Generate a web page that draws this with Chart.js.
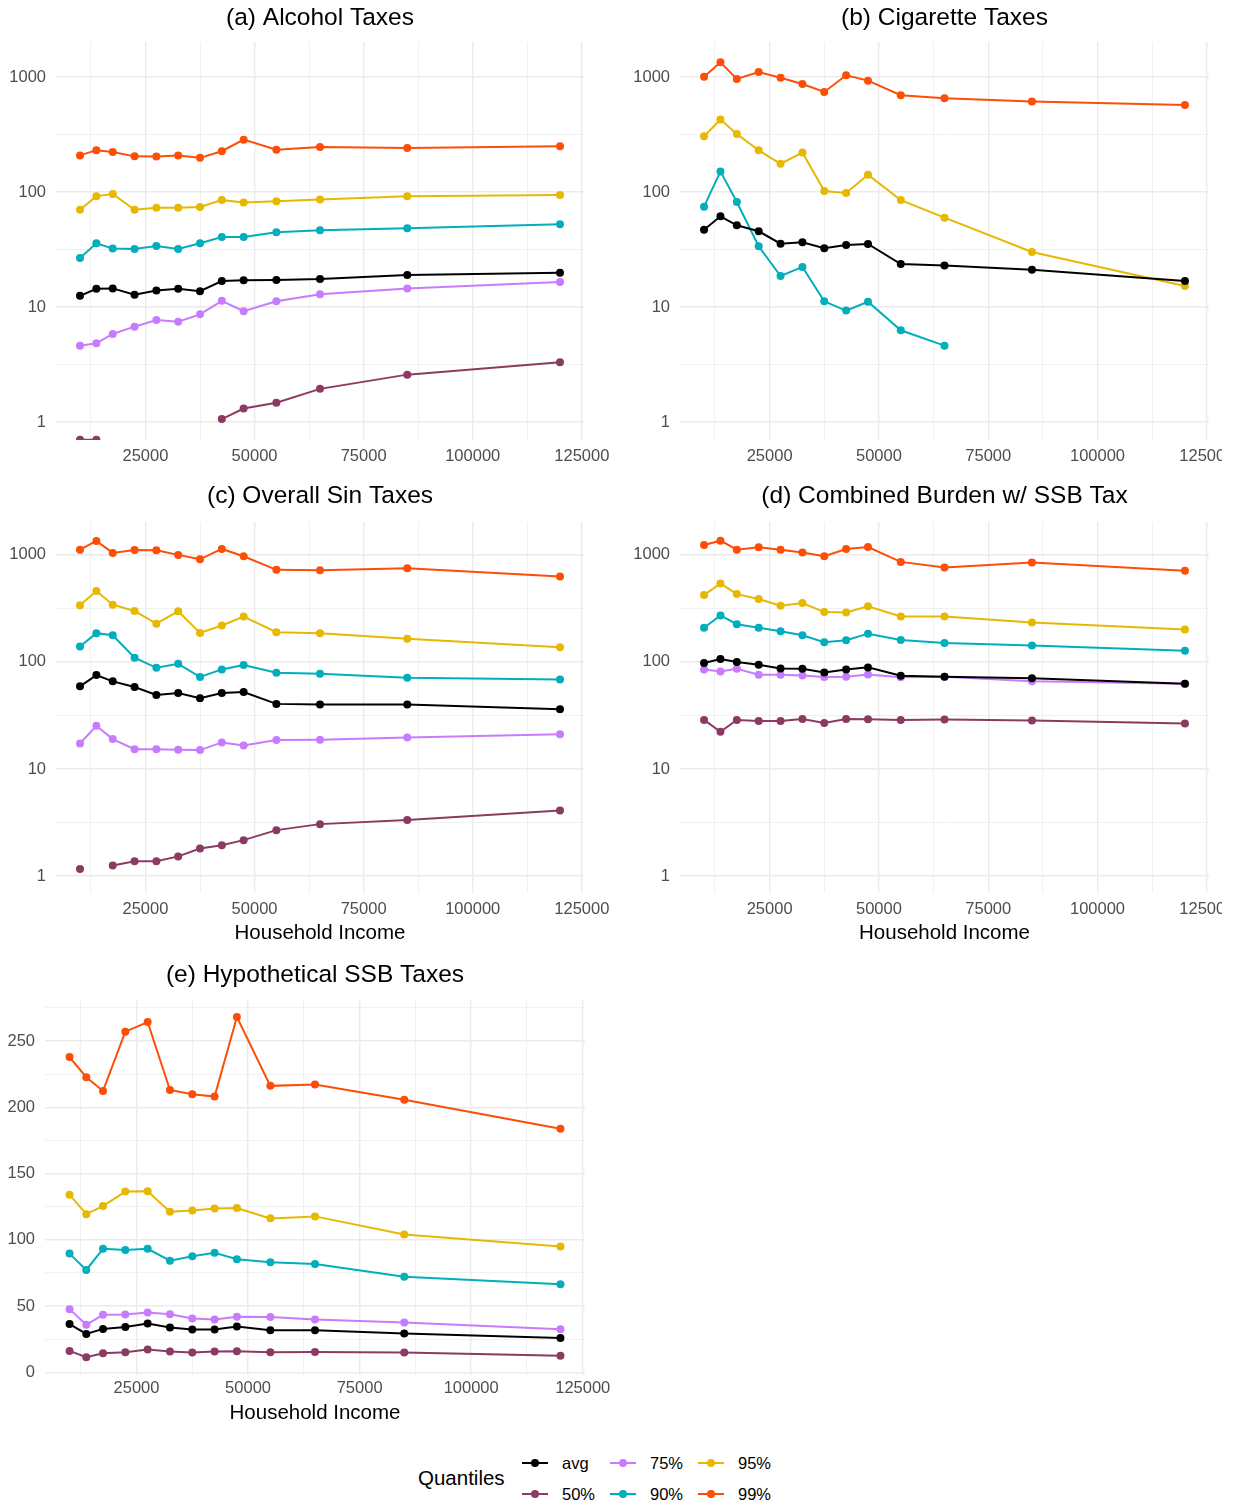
<!DOCTYPE html>
<html lang="en">
<head>
  <meta charset="UTF-8">
  <title>Sin Taxes by Household Income</title>
  <script src="https://cdn.jsdelivr.net/npm/chart.js"></script>
  <style>
    body { margin: 0; background: #fff; font-family: 'Liberation Sans', Arial, sans-serif; }
    #page { position: relative; width: 1234px; height: 1506px; overflow: hidden; background: #fff; }
    .panel { position: absolute; }
    .lg { position: absolute; }
  </style>
</head>
<body>
<div id="page">
  <canvas class="panel" id="chartA"></canvas>
  <canvas class="panel" id="chartB"></canvas>
  <canvas class="panel" id="chartC"></canvas>
  <canvas class="panel" id="chartD"></canvas>
  <canvas class="panel" id="chartE"></canvas>
  <div id="legend"></div>
</div>

<script>
  // x values (household income bins)
  var incomes = [10000, 13750, 17500, 22500, 27500, 32500, 37500, 42500, 47500, 55000, 65000, 85000, 120000];

  var seriesNames = ['avg', '50%', '75%', '90%', '95%', '99%'];
  var seriesColors = ['#000000', '#8B3B62', '#C77CFF', '#00AFBB', '#E7B800', '#FC4E07'];

  // tick values
  var xTicks = [12500, 25000, 37500, 50000, 62500, 75000, 87500, 100000, 112500, 125000];
  var xMajor = [25000, 50000, 75000, 100000, 125000];
  var logTicks = [1, 3.1623, 10, 31.623, 100, 316.23, 1000];
  var logMajor = [1, 10, 100, 1000];
  var ssbTicks = [0, 25, 50, 75, 100, 125, 150, 175, 200, 225, 250, 275];
  var ssbMajor = [0, 50, 100, 150, 200, 250];

  // (a) Alcohol Taxes
  var alcAvg = [12.5, 14.4, 14.5, 12.8, 13.9, 14.4, 13.7, 16.8, 17.1, 17.2, 17.5, 19.0, 19.8];
  var alc50  = [0.7, 0.7, null, null, null, null, null, 1.06, 1.31, 1.47, 1.94, 2.58, 3.30];
  var alc75  = [4.61, 4.83, 5.82, 6.74, 7.71, 7.45, 8.63, 11.3, 9.2, 11.2, 12.9, 14.5, 16.5];
  var alc90  = [26.7, 35.8, 32.2, 31.9, 33.9, 31.9, 35.8, 40.6, 40.6, 44.7, 46.5, 48.3, 52.4];
  var alc95  = [70, 92, 96, 70, 73, 73, 74, 85, 81, 83, 86, 92, 94];
  var alc99  = [208, 231, 223, 204, 203, 208, 198, 226, 285, 233, 246, 241, 250];

  // (b) Cigarette Taxes
  var cigAvg = [47, 61.4, 51.3, 45.5, 35.5, 36.5, 32.4, 34.6, 35.3, 23.6, 22.9, 21.1, 16.8];
  var cig50  = [null, null, null, null, null, null, null, null, null, null, null, null, null];
  var cig75  = [null, null, null, null, null, null, null, null, null, null, null, null, null];
  var cig90  = [74.5, 151, 81.8, 33.7, 18.6, 22.3, 11.2, 9.3, 11.1, 6.27, 4.61, null, null];
  var cig95  = [305, 426, 319, 230, 176, 220, 102, 98, 141, 85, 59.8, 30.1, 15.2];
  var cig99  = [1006, 1341, 961, 1105, 986, 869, 741, 1034, 929, 693, 653, 611, 571];

  // (c) Overall Sin Taxes
  var sinAvg = [59, 75.2, 65.7, 58.2, 49, 51.1, 45.7, 51.1, 52.3, 40.5, 39.9, 39.9, 36.1];
  var sin50  = [1.17, null, 1.26, 1.38, 1.38, 1.53, 1.81, 1.94, 2.17, 2.69, 3.06, 3.34, 4.10];
  var sin75  = [17.3, 25.3, 19.0, 15.3, 15.3, 15.1, 15.0, 17.7, 16.6, 18.6, 18.7, 19.7, 21.1];
  var sin90  = [139, 185, 177, 109, 87.9, 95.8, 72.1, 84.9, 93.1, 79, 77.3, 70.9, 68.5];
  var sin95  = [336, 457, 341, 298, 227, 296, 186, 218, 264, 189, 185, 164, 137];
  var sin99  = [1112, 1340, 1037, 1105, 1096, 994, 904, 1129, 966, 721, 715, 747, 625];

  // (d) Combined Burden w/ SSB Tax
  var cmbAvg = [97.3, 106, 99.4, 93.8, 86.7, 86, 79.6, 84.9, 88.7, 74.1, 72.5, 70.4, 62.4];
  var cmb50  = [28.7, 22.2, 28.7, 28.1, 28.1, 29.3, 26.9, 29.3, 29.1, 28.7, 28.9, 28.3, 26.5];
  var cmb75  = [84.9, 81.3, 86, 75.7, 75.7, 74.6, 72.1, 72.5, 76.2, 71.6, 72.5, 65.7, 62.4];
  var cmb90  = [208, 271, 224, 208, 193, 177, 152, 159, 183, 160, 150, 142, 127];
  var cmb95  = [419, 538, 428, 385, 334, 353, 291, 289, 329, 265, 265, 232, 200];
  var cmb99  = [1231, 1349, 1112, 1169, 1112, 1044, 966, 1129, 1178, 855, 757, 843, 705];

  // (e) Hypothetical SSB Taxes
  var ssbAvg = [36.4, 29, 32.8, 34.3, 36.9, 33.8, 32.3, 32.3, 34.6, 31.8, 31.8, 29.3, 26];
  var ssb50  = [16.2, 11.4, 14.4, 15.2, 17.2, 15.7, 14.9, 15.7, 15.9, 15.2, 15.4, 14.9, 12.6];
  var ssb75  = [47.7, 35.9, 43.4, 43.7, 45.2, 43.9, 40.7, 39.9, 41.9, 41.7, 39.9, 37.6, 32.6];
  var ssb90  = [89.6, 77.3, 93.2, 92.4, 93.2, 84.3, 87.6, 90.2, 85.4, 83.1, 81.8, 72.2, 66.4];
  var ssb95  = [134.1, 119.4, 125.5, 136.4, 136.6, 121.2, 122.2, 123.7, 124, 116.2, 117.7, 104, 94.9];
  var ssb99  = [237.9, 222.7, 212.4, 257.1, 264.4, 213.1, 209.8, 208.1, 268.2, 216.2, 217.2, 205.8, 183.8];

  var FONT = "'Liberation Sans', Arial, sans-serif";
  Chart.defaults.font.family = FONT;
  Chart.defaults.color = '#4D4D4D';

  function gridOpts() {
    return {
      color: '#EBEBEB',
      lineWidth: function (c) { return c.tick && c.tick.minor ? 0.7 : 1.4; },
      drawTicks: false
    };
  }

  function tickList(values, majors) {
    return values.map(function (v) { return { value: v, minor: majors.indexOf(v) < 0 }; });
  }

  function labelCb(v, i, t) {
    return t[i] && t[i].minor ? '' : String(v);
  }

  function buildPanel(p) {
    var canvas = document.getElementById(p.id);
    canvas.width = p.w;
    canvas.height = p.h;
    canvas.style.left = p.left + 'px';
    canvas.style.top = p.top + 'px';

    var datasets = seriesNames.map(function (name, i) {
      return {
        label: name,
        data: incomes.map(function (x, j) { return { x: x, y: p.values[i][j] }; }),
        borderColor: seriesColors[i],
        backgroundColor: seriesColors[i],
        pointBackgroundColor: seriesColors[i],
        pointBorderWidth: 0,
        pointRadius: 4,
        borderWidth: 2,
        tension: 0,
        spanGaps: false
      };
    });

    var yScale = {
      grid: gridOpts(),
      border: { display: false },
      ticks: { autoSkip: false, padding: 10, font: { size: 16.5 }, color: '#4D4D4D', callback: labelCb },
      afterFit: function (s) {
        s.width = p.yAxisW;
        s.paddingTop = 0;
        s.paddingBottom = 0;
      }
    };
    if (p.log) {
      yScale.type = 'logarithmic';
      yScale.min = 0.697;
      yScale.max = 2014;
      yScale.ticks.major = { enabled: false };
      yScale.afterBuildTicks = function (s) { s.ticks = tickList(logTicks, logMajor); };
    } else {
      yScale.type = 'linear';
      yScale.min = -2;
      yScale.max = 281;
      yScale.afterBuildTicks = function (s) { s.ticks = tickList(ssbTicks, ssbMajor); };
    }

    new Chart(canvas.getContext('2d'), {
      type: 'line',
      data: { datasets: datasets },
      options: {
        responsive: false,
        animation: false,
        layout: { autoPadding: false, padding: { left: 0, right: p.padRight, top: 0, bottom: 0 } },
        scales: {
          x: {
            type: 'linear',
            min: 4500,
            max: 125500,
            grid: gridOpts(),
            border: { display: false },
            ticks: { autoSkip: false, maxRotation: 0, minRotation: 0, padding: p.xLabelPad,
                     font: { size: 16.5 }, color: '#4D4D4D', callback: labelCb },
            title: { display: p.xTitle, text: 'Household Income', color: '#000000',
                     font: { size: 20.5 }, padding: { top: 0, bottom: p.xTitlePad } },
            afterBuildTicks: function (s) { s.ticks = tickList(xTicks, xMajor); },
            afterFit: function (s) {
              s.height = p.xAxisH;
              // let the last tick label run off the canvas edge instead of shrinking the plot
              s.paddingLeft = 0;
              s.paddingRight = 0;
            }
          },
          y: yScale
        },
        plugins: {
          legend: { display: false },
          tooltip: { enabled: false },
          title: {
            display: true,
            text: p.title,
            fullSize: false,
            color: '#000000',
            font: { size: 24.5, weight: 'normal' },
            padding: { top: 4, bottom: p.titlePadB }
          }
        }
      }
    });
  }

  buildPanel({ id: 'chartA', left: 0, top: 0, w: 620, h: 470, yAxisW: 56, padRight: 36,
    titlePadB: 8.6, xAxisH: 30, xLabelPad: 6.6, xTitle: false, xTitlePad: 0, log: true,
    title: '(a) Alcohol Taxes', values: [alcAvg, alc50, alc75, alc90, alc95, alc99] });

  buildPanel({ id: 'chartB', left: 624, top: 0, w: 598, h: 470, yAxisW: 56, padRight: 13,
    titlePadB: 8.6, xAxisH: 30, xLabelPad: 6.6, xTitle: false, xTitlePad: 0, log: true,
    title: '(b) Cigarette Taxes', values: [cigAvg, cig50, cig75, cig90, cig95, cig99] });

  buildPanel({ id: 'chartC', left: 0, top: 478, w: 620, h: 472, yAxisW: 56, padRight: 36,
    titlePadB: 10.6, xAxisH: 57, xLabelPad: 7, xTitle: true, xTitlePad: 4.7, log: true,
    title: '(c) Overall Sin Taxes', values: [sinAvg, sin50, sin75, sin90, sin95, sin99] });

  buildPanel({ id: 'chartD', left: 624, top: 478, w: 598, h: 472, yAxisW: 56, padRight: 13,
    titlePadB: 10.6, xAxisH: 57, xLabelPad: 7, xTitle: true, xTitlePad: 4.7, log: true,
    title: '(d) Combined Burden w/ SSB Tax', values: [cmbAvg, cmb50, cmb75, cmb90, cmb95, cmb99] });

  buildPanel({ id: 'chartE', left: 0, top: 957, w: 620, h: 475, yAxisW: 45, padRight: 35,
    titlePadB: 9.6, xAxisH: 57, xLabelPad: 4, xTitle: true, xTitlePad: 6.7, log: false,
    title: '(e) Hypothetical SSB Taxes', values: [ssbAvg, ssb50, ssb75, ssb90, ssb95, ssb99] });

  // shared legend at the bottom, filled column by column
  var legend = document.getElementById('legend');
  var colX = [522, 610, 698];
  var rowY = [1463, 1494];
  var head = document.createElement('div');
  head.className = 'lg';
  head.textContent = 'Quantiles';
  head.style.cssText = 'left:418px;top:1466px;font-size:20.5px;line-height:24px;color:#000;';
  legend.appendChild(head);
  seriesNames.forEach(function (name, i) {
    var cx = colX[Math.floor(i / 2)], cy = rowY[i % 2];
    var line = document.createElement('div');
    line.className = 'lg';
    line.style.cssText = 'left:' + cx + 'px;top:' + (cy - 1) + 'px;width:26px;height:2px;background:' + seriesColors[i] + ';';
    var dot = document.createElement('div');
    dot.className = 'lg';
    dot.style.cssText = 'left:' + (cx + 9) + 'px;top:' + (cy - 4) + 'px;width:8px;height:8px;border-radius:50%;background:' + seriesColors[i] + ';';
    var txt = document.createElement('div');
    txt.className = 'lg';
    txt.textContent = name;
    txt.style.cssText = 'left:' + (cx + 40) + 'px;top:' + (cy - 10) + 'px;font-size:16.5px;line-height:20px;color:#000;';
    legend.appendChild(line);
    legend.appendChild(dot);
    legend.appendChild(txt);
  });
</script>
</body>
</html>
